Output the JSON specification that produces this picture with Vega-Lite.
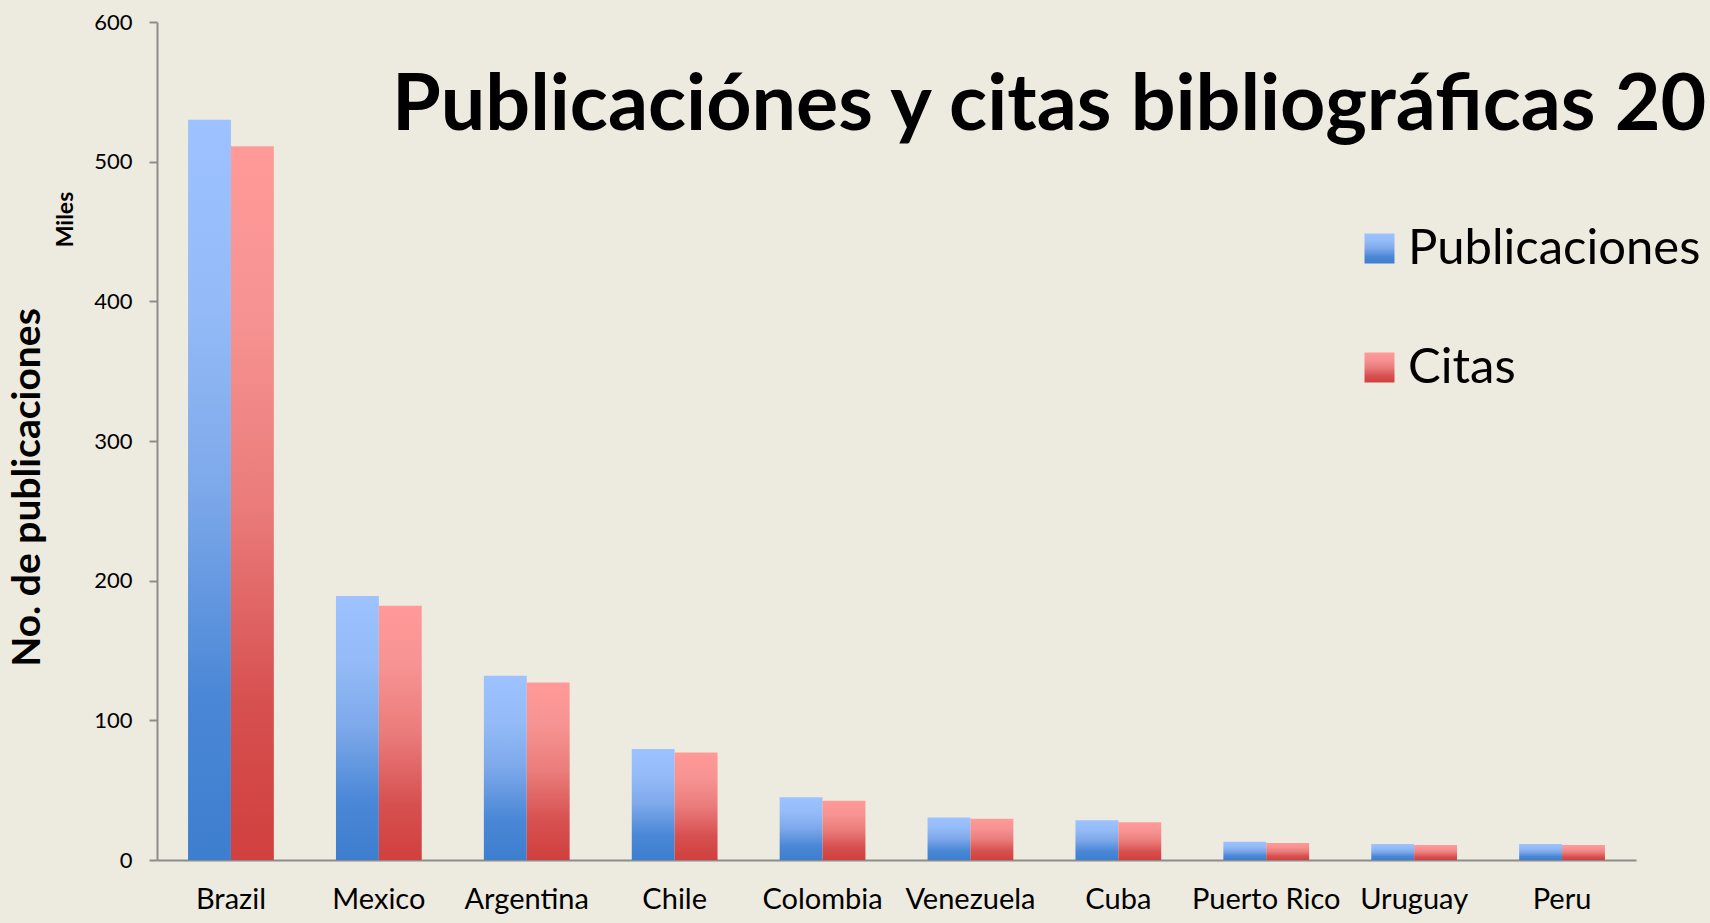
{
  "$schema": "https://vega.github.io/schema/vega-lite/v6.json",
  "autosize": "none",
  "width": 1479,
  "height": 838,
  "padding": {"left": 157, "top": 22, "right": 74, "bottom": 63},
  "background": "#EDEBE0",
  "config": {
    "view": {"stroke": null},
    "font": "Lato",
    "legend": {
      "title": null,
      "orient": "none",
      "padding": 0,
      "symbolType": "square",
      "symbolSize": 900,
      "symbolStrokeWidth": 0,
      "labelFont": "Lato",
      "labelFontSize": 49,
      "labelColor": "#000000",
      "labelOffset": 4,
      "labelLimit": 400
    }
  },
  "title": {
    "text": "Publicaciónes y citas bibliográficas 20",
    "anchor": "start",
    "frame": "group",
    "orient": "top",
    "font": "Lato",
    "fontSize": 79,
    "fontWeight": "bold",
    "color": "#000000",
    "baseline": "alphabetic",
    "offset": 0,
    "dx": 235,
    "dy": 198
  },
  "data": {
    "values": [
      {"pais": "Brazil", "serie": "Publicaciones", "valor": 530},
      {"pais": "Brazil", "serie": "Citas", "valor": 511},
      {"pais": "Mexico", "serie": "Publicaciones", "valor": 189},
      {"pais": "Mexico", "serie": "Citas", "valor": 182},
      {"pais": "Argentina", "serie": "Publicaciones", "valor": 132},
      {"pais": "Argentina", "serie": "Citas", "valor": 127},
      {"pais": "Chile", "serie": "Publicaciones", "valor": 79.5},
      {"pais": "Chile", "serie": "Citas", "valor": 77},
      {"pais": "Colombia", "serie": "Publicaciones", "valor": 45},
      {"pais": "Colombia", "serie": "Citas", "valor": 42.5},
      {"pais": "Venezuela", "serie": "Publicaciones", "valor": 30.5},
      {"pais": "Venezuela", "serie": "Citas", "valor": 29.5},
      {"pais": "Cuba", "serie": "Publicaciones", "valor": 28.5},
      {"pais": "Cuba", "serie": "Citas", "valor": 27},
      {"pais": "Puerto Rico", "serie": "Publicaciones", "valor": 13},
      {"pais": "Puerto Rico", "serie": "Citas", "valor": 12.2},
      {"pais": "Uruguay", "serie": "Publicaciones", "valor": 11.5},
      {"pais": "Uruguay", "serie": "Citas", "valor": 10.7},
      {"pais": "Peru", "serie": "Publicaciones", "valor": 11.5},
      {"pais": "Peru", "serie": "Citas", "valor": 10.7}
    ]
  },
  "encoding": {
    "x": {
      "field": "pais",
      "type": "nominal",
      "sort": null,
      "scale": {"paddingInner": 0.42, "paddingOuter": 0.21},
      "axis": {
        "title": null,
        "labelAngle": 0,
        "labelFont": "Lato",
        "labelFontSize": 29,
        "labelColor": "#000000",
        "labelPadding": 25,
        "ticks": false,
        "domainColor": "#8C8C8C",
        "domainWidth": 2
      }
    },
    "xOffset": {
      "field": "serie",
      "type": "nominal",
      "scale": {"domain": ["Publicaciones", "Citas"], "paddingInner": 0, "paddingOuter": 0}
    }
  },
  "layer": [
    {
      "transform": [{"filter": "datum.serie === 'Publicaciones'"}],
      "mark": {
        "type": "bar",
        "color": {"gradient": "linear", "x1": 0, "y1": 0, "x2": 0, "y2": 1, "stops": [{"offset": 0, "color": "#9DC2FF"}, {"offset": 0.25, "color": "#94BBF7"}, {"offset": 0.5, "color": "#7DA8EA"}, {"offset": 0.78, "color": "#4A87D6"}, {"offset": 1, "color": "#3E7ECF"}]}
      },
      "encoding": {
        "y": {
          "field": "valor",
          "type": "quantitative",
          "scale": {"domain": [0, 600], "nice": false},
          "axis": {
            "title": "No. de publicaciones",
            "titleFont": "Lato",
            "titleFontSize": 39,
            "titleFontWeight": "bold",
            "titleColor": "#000000",
            "titleAngle": 270,
            "titleAlign": "center",
            "titleBaseline": "middle",
            "titleX": -130,
            "titleY": 465,
            "values": [0, 100, 200, 300, 400, 500, 600],
            "labelFont": "Lato",
            "labelFontSize": 22,
            "labelColor": "#000000",
            "labelPadding": 17,
            "tickSize": 8,
            "tickColor": "#8C8C8C",
            "tickWidth": 2,
            "domainColor": "#8C8C8C",
            "domainWidth": 2,
            "grid": false
          }
        },
        "opacity": {
          "field": "serie",
          "type": "ordinal",
          "scale": {"range": [1, 1]},
          "legend": {"legendX": 1198, "legendY": 202}
        }
      }
    },
    {
      "transform": [{"filter": "datum.serie === 'Citas'"}],
      "mark": {
        "type": "bar",
        "color": {"gradient": "linear", "x1": 0, "y1": 0, "x2": 0, "y2": 1, "stops": [{"offset": 0, "color": "#FF9A99"}, {"offset": 0.25, "color": "#F69291"}, {"offset": 0.5, "color": "#EA7C7B"}, {"offset": 0.78, "color": "#D75050"}, {"offset": 1, "color": "#D0403E"}]}
      },
      "encoding": {
        "y": {
          "field": "valor",
          "type": "quantitative",
          "axis": {
            "orient": "left",
            "title": "Miles",
            "titleFont": "Lato",
            "titleFontSize": 23,
            "titleFontWeight": "bold",
            "titleColor": "#000000",
            "titleAngle": 270,
            "titleAlign": "center",
            "titleBaseline": "middle",
            "titleX": -92,
            "titleY": 197,
            "labels": false,
            "ticks": false,
            "domain": false,
            "grid": false
          }
        },
        "opacity": {
          "field": "serie",
          "type": "ordinal",
          "scale": {"range": [1, 1]},
          "legend": {"legendX": 1198, "legendY": 321}
        }
      }
    }
  ],
  "resolve": {
    "axis": {"y": "independent"},
    "scale": {"opacity": "independent"},
    "legend": {"opacity": "independent"}
  }
}
